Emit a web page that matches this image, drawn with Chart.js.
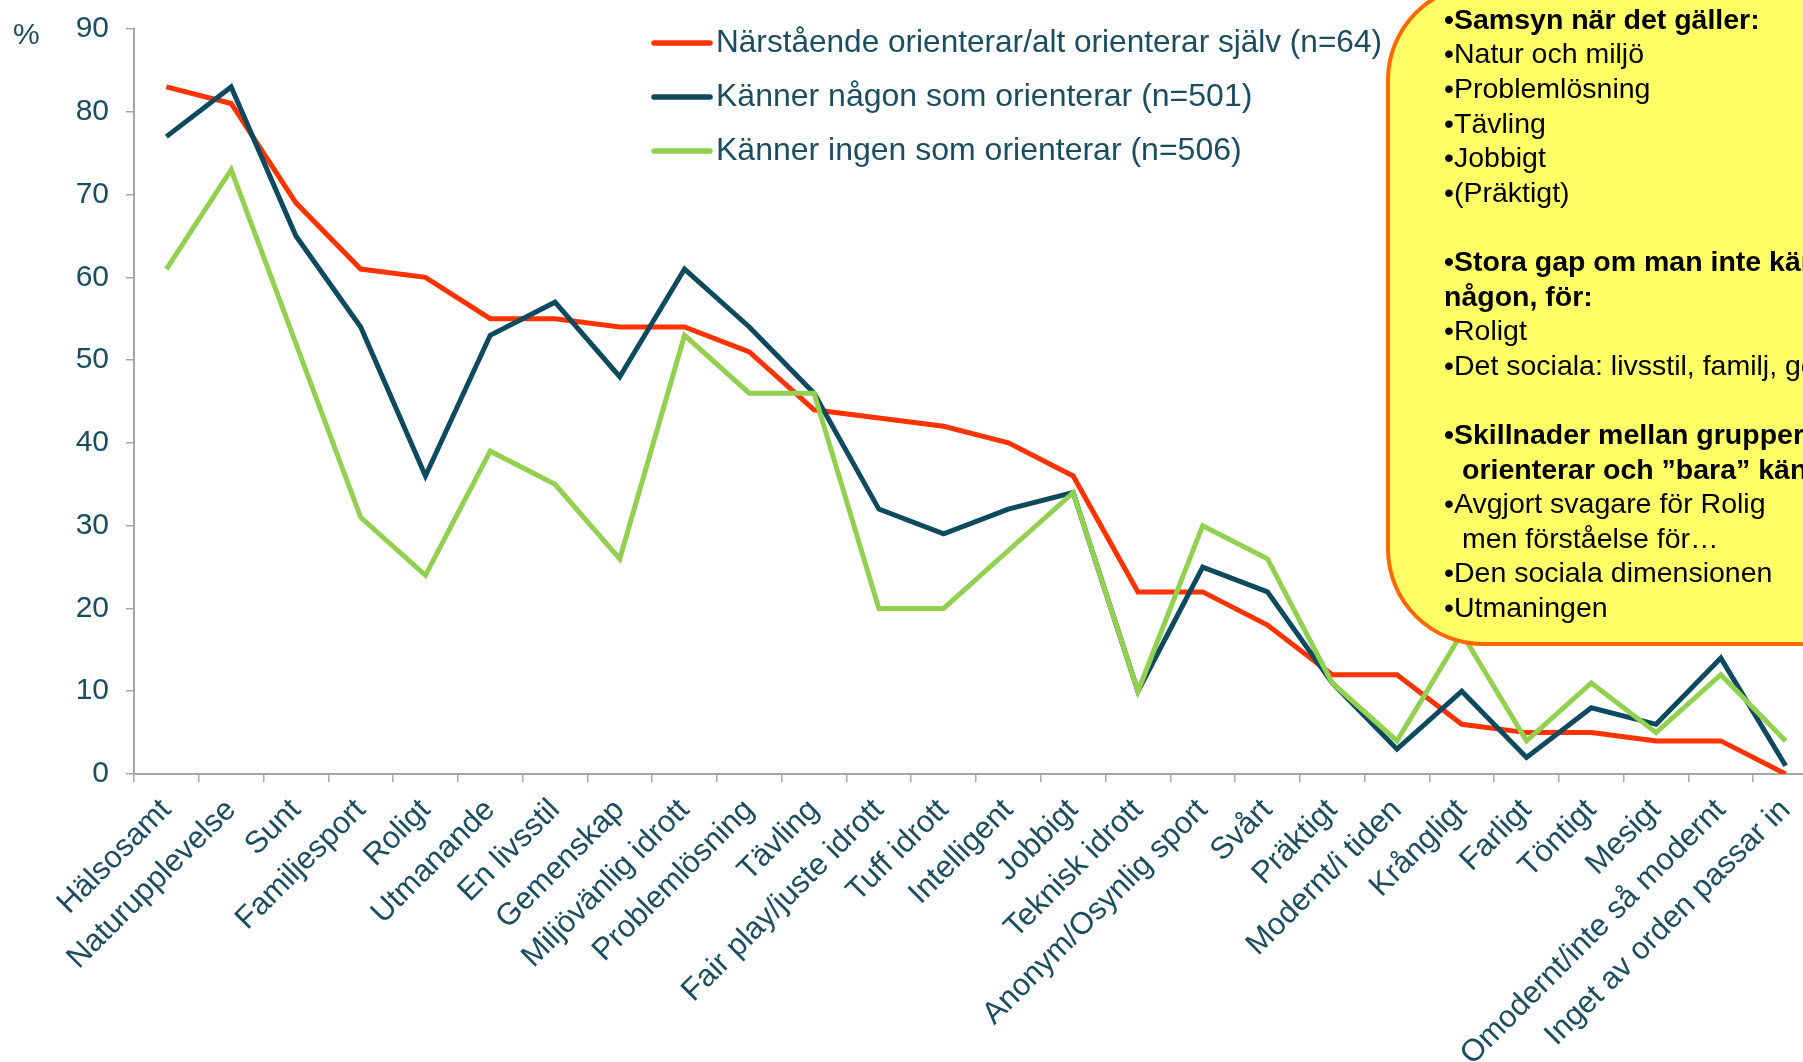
<!DOCTYPE html>
<html>
<head>
<meta charset="utf-8">
<script src="https://cdn.jsdelivr.net/npm/chart.js@4.4.1/dist/chart.umd.min.js"></script>
<style>
  html, body { margin: 0; padding: 0; background: #fff; overflow: hidden; }
  #wrap { width: 1830px; height: 1062px; }
</style>
</head>
<body>
<div id="wrap"><canvas id="ordChart" width="1830" height="1062"></canvas></div>
<script>
const categories = [
  "Hälsosamt", "Naturupplevelse", "Sunt", "Familjesport", "Roligt", "Utmanande",
  "En livsstil", "Gemenskap", "Miljövänlig idrott", "Problemlösning", "Tävling",
  "Fair play/juste idrott", "Tuff idrott", "Intelligent", "Jobbigt", "Teknisk idrott",
  "Anonym/Osynlig sport", "Svårt", "Präktigt", "Modernt/i tiden", "Krångligt",
  "Farligt", "Töntigt", "Mesigt", "Omodernt/inte så modernt", "Inget av orden passar in"
];

const narstaende = [83, 81, 69, 61, 60, 55, 55, 54, 54, 51, 44, 43, 42, 40, 36, 22, 22, 18, 12, 12, 6, 5, 5, 4, 4, 0];
const kannerNagon = [77, 83, 65, 54, 36, 53, 57, 48, 61, 54, 46, 32, 29, 32, 34, 10, 25, 22, 11, 3, 10, 2, 8, 6, 14, 1];
const kannerIngen = [61, 73, 52, 31, 24, 39, 35, 26, 53, 46, 46, 20, 20, 27, 34, 10, 30, 26, 11, 4, 17, 4, 11, 5, 12, 4];

const seriesNames = [
  "Närstående orienterar/alt orienterar själv (n=64)",
  "Känner någon som orienterar (n=501)",
  "Känner ingen som orienterar (n=506)"
];
const seriesColors = ["#ff3300", "#0d4a5f", "#92d050"];

const yMin = 0, yMax = 90, yStep = 10;

// text of the yellow note box, one entry per line ("" = empty line)
const noteLines = [
  { text: "•Samsyn när det gäller:", bold: true },
  { text: "•Natur och miljö" },
  { text: "•Problemlösning" },
  { text: "•Tävling" },
  { text: "•Jobbigt" },
  { text: "•(Präktigt)" },
  { text: "" },
  { text: "•Stora gap om man inte känner", bold: true },
  { text: "någon, för:", bold: true },
  { text: "•Roligt" },
  { text: "•Det sociala: livsstil, familj, gemenskap" },
  { text: "" },
  { text: "•Skillnader mellan grupperna som", bold: true },
  { text: "orienterar och ”bara” känner", bold: true, indent: true },
  { text: "•Avgjort svagare för Rolig" },
  { text: "men förståelse för…", indent: true },
  { text: "•Den sociala dimensionen" },
  { text: "•Utmaningen" }
];

const textColor = "#1b4d60";
const axisColor = "#a6a6a6";
const fontFamily = "'Liberation Sans', Arial, sans-serif";

Chart.defaults.font.family = fontFamily;

// legend, "%" unit and the note box are painted on top of the chart
const overlay = {
  id: "overlay",
  afterDraw(chart) {
    const ctx = chart.ctx;
    ctx.save();

    // unit label
    ctx.fillStyle = textColor;
    ctx.font = "30px " + fontFamily;
    ctx.textBaseline = "middle";
    ctx.textAlign = "left";
    ctx.fillText("%", 13, 36);

    // legend
    chart.data.datasets.forEach((ds, i) => {
      const y = 43 + i * 54;
      ctx.strokeStyle = ds.borderColor;
      ctx.lineWidth = 5.5;
      ctx.lineCap = "round";
      ctx.beginPath();
      ctx.moveTo(654, y);
      ctx.lineTo(710, y);
      ctx.stroke();
      ctx.fillStyle = textColor;
      ctx.font = "32px " + fontFamily;
      ctx.fillText(ds.label, 716, y, i === 0 ? 666 : 1000);
    });

    // note box
    const x0 = 1388, y0 = -15, x1 = 1900, y1 = 644, r = 95;
    ctx.beginPath();
    ctx.moveTo(x0 + r, y0);
    ctx.lineTo(x1, y0);
    ctx.lineTo(x1, y1);
    ctx.lineTo(x0 + r, y1);
    ctx.arcTo(x0, y1, x0, y1 - r, r);
    ctx.lineTo(x0, y0 + r);
    ctx.arcTo(x0, y0, x0 + r, y0, r);
    ctx.closePath();
    ctx.fillStyle = "#ffff66";
    ctx.fill();
    ctx.strokeStyle = "#ff6a00";
    ctx.lineWidth = 4;
    ctx.stroke();

    ctx.fillStyle = "#000";
    ctx.textBaseline = "middle";
    noteLines.forEach((ln, i) => {
      if (!ln.text) return;
      ctx.font = (ln.bold ? "bold " : "") + "28.5px " + fontFamily;
      ctx.fillText(ln.text, ln.indent ? 1462 : 1444, 21 + i * 34.6);
    });

    ctx.restore();
  }
};

new Chart(document.getElementById("ordChart"), {
  type: "line",
  data: {
    labels: categories,
    datasets: [
      { label: seriesNames[0], data: narstaende, borderColor: seriesColors[0], order: 2 },
      { label: seriesNames[1], data: kannerNagon, borderColor: seriesColors[1], order: 1 },
      { label: seriesNames[2], data: kannerIngen, borderColor: seriesColors[2], order: 0 }
    ]
  },
  options: {
    responsive: false,
    animation: false,
    layout: { padding: { top: 20, right: 12, left: 0, bottom: 0 } },
    elements: {
      line: { borderWidth: 5, tension: 0, fill: false, borderJoinStyle: "miter" },
      point: { radius: 0, hoverRadius: 0 }
    },
    plugins: {
      legend: { display: false },
      tooltip: { enabled: false }
    },
    scales: {
      x: {
        offset: true,
        afterFit(scale) { scale.height = 288; },
        grid: { offset: true, drawOnChartArea: false, tickLength: 8, color: axisColor, lineWidth: 1.5 },
        border: { color: axisColor, width: 2 },
        ticks: {
          autoSkip: false,
          minRotation: 45,
          maxRotation: 45,
          padding: 10,
          color: textColor,
          font: { size: 31 }
        }
      },
      y: {
        min: yMin,
        max: yMax,
        afterFit(scale) { scale.width = 134; },
        grid: { drawOnChartArea: false, tickLength: 8, color: axisColor, lineWidth: 1.5 },
        border: { color: axisColor, width: 2 },
        ticks: {
          stepSize: yStep,
          padding: 17,
          color: textColor,
          // small line height keeps the top label from pushing the plot down
          font: { size: 30, lineHeight: 0.8 }
        }
      }
    }
  },
  plugins: [overlay]
});
</script>
</body>
</html>
